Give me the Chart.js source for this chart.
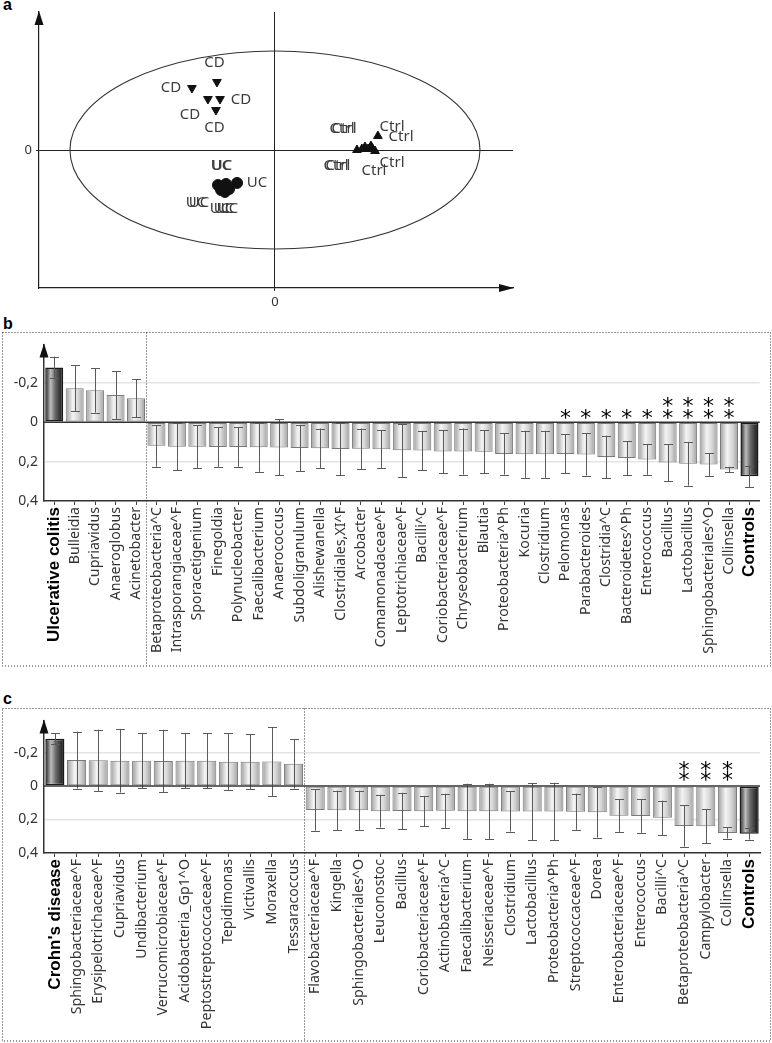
<!DOCTYPE html>
<html lang="en">
<head>
<meta charset="UTF-8">
<title>PCA and discriminant genera – IBD vs controls</title>
<style>
    body { margin: 0; background: #fff; }
    .wrap { position: relative; width: 772px; height: 1043px; overflow: hidden; }
    canvas { position: absolute; left: 0; }
    .letter { position: absolute; left: 3px; font: bold 16px "Liberation Sans", Arial, sans-serif; line-height: 16px; color: #000; }
</style>
</head>
<body>
<div class="wrap">
    <div class="letter" style="top:-3px">a</div>
    <canvas id="pca" width="772" height="312" style="top:0"></canvas>
    <div class="letter" style="top:316px">b</div>
    <canvas id="ucChart" width="772" height="338" style="top:330px"></canvas>
    <div class="letter" style="top:691px">c</div>
    <canvas id="cdChart" width="772" height="337" style="top:706px"></canvas>
</div>

<script src="https://cdn.jsdelivr.net/npm/chart.js@4.4.1/dist/chart.umd.min.js"></script>
<script>
    // ---- panel a: PCA scores (axis units scaled so the ellipse has radius 1)
    const cdX = [-0.283, -0.405, -0.327, -0.268, -0.288];
    const cdY = [0.687, 0.626, 0.515, 0.515, 0.404];
    const ucX = [-0.278, -0.263, -0.244, -0.224, -0.239, -0.259, -0.185];
    const ucY = [-0.354, -0.404, -0.424, -0.394, -0.343, -0.374, -0.333];
    const ctrlX = [0.400, 0.424, 0.439, 0.454, 0.473, 0.488, 0.468, 0.502];
    const ctrlY = [0.000, 0.010, 0.030, 0.010, 0.020, -0.010, 0.040, 0.141];

    const cdLabelX = [-0.295, -0.507, -0.166, -0.415, -0.295];
    const cdLabelY = [0.879, 0.626, 0.505, 0.354, 0.222];
    const ucLabelX = [-0.263, -0.258, -0.088, -0.385, -0.371, -0.268, -0.249, -0.229];
    const ucLabelY = [-0.162, -0.162, -0.333, -0.535, -0.535, -0.596, -0.596, -0.596];
    const ctrlLabelX = [0.327, 0.337, 0.571, 0.615, 0.298, 0.307, 0.483, 0.571];
    const ctrlLabelY = [0.212, 0.212, 0.232, 0.131, -0.162, -0.162, -0.212, -0.131];

    const ellipseRx = 1;
    const ellipseRy = 1;

    // ---- panel b: ulcerative colitis vs controls
    const ucLabels = ['Ulcerative colitis', 'Bulleidia', 'Cupriavidus', 'Anaeroglobus', 'Acinetobacter',
        'Betaproteobacteria^C', 'Intrasporangiaceae^F', 'Sporacetigenium', 'Finegoldia', 'Polynucleobacter',
        'Faecalibacterium', 'Anaerococcus', 'Subdoligranulum', 'Alishewanella', 'Clostridiales,XI^F',
        'Arcobacter', 'Comamonadaceae^F', 'Leptotrichiaceae^F', 'Bacilli^C', 'Coriobacteriaceae^F',
        'Chryseobacterium', 'Blautia', 'Proteobacteria^Ph', 'Kocuria', 'Clostridium', 'Pelomonas',
        'Parabacteroides', 'Clostridia^C', 'Bacteroidetes^Ph', 'Enterococcus', 'Bacillus', 'Lactobacillus',
        'Sphingobacteriales^O', 'Collinsella', 'Controls'];
    const ucMean = [-0.278, -0.172, -0.162, -0.138, -0.122, 0.120, 0.125, 0.124, 0.126, 0.126,
        0.127, 0.128, 0.131, 0.132, 0.136, 0.135, 0.137, 0.142, 0.144, 0.149,
        0.149, 0.150, 0.161, 0.163, 0.163, 0.161, 0.164, 0.176, 0.182, 0.189,
        0.205, 0.211, 0.215, 0.240, 0.274];
    const ucSd = [0.055, 0.117, 0.113, 0.122, 0.097, 0.106, 0.120, 0.108, 0.100, 0.100,
        0.125, 0.142, 0.118, 0.100, 0.134, 0.103, 0.095, 0.135, 0.100, 0.110,
        0.117, 0.110, 0.105, 0.119, 0.119, 0.099, 0.107, 0.108, 0.086, 0.078,
        0.094, 0.111, 0.057, 0.014, 0.054];
    const ucStars = [0, 0, 0, 0, 0, 0, 0, 0, 0, 0, 0, 0, 0, 0, 0, 0, 0, 0, 0, 0,
        0, 0, 0, 0, 0, 1, 1, 1, 1, 1, 2, 2, 2, 2, 0];
    const ucGroupSize = 5;

    // ---- panel c: Crohn's disease vs controls
    const cdLabels = ["Crohn's disease", 'Sphingobacteriaceae^F', 'Erysipelotrichaceae^F', 'Cupriavidus',
        'Undibacterium', 'Verrucomicrobiaceae^F', 'Acidobacteria_Gp1^O', 'Peptostreptococcaceae^F',
        'Tepidimonas', 'Victivallis', 'Moraxella', 'Tessaracoccus', 'Flavobacteriaceae^F', 'Kingella',
        'Sphingobacteriales^O', 'Leuconostoc', 'Bacillus', 'Coriobacteriaceae^F', 'Actinobacteria^C',
        'Faecalibacterium', 'Neisseriaceae^F', 'Clostridium', 'Lactobacillus', 'Proteobacteria^Ph',
        'Streptococcaceae^F', 'Dorea', 'Enterobacteriaceae^F', 'Enterococcus', 'Bacilli^C',
        'Betaproteobacteria^C', 'Campylobacter', 'Collinsella', 'Controls'];
    const cdMean = [-0.283, -0.155, -0.154, -0.151, -0.151, -0.150, -0.151, -0.151, -0.145, -0.145,
        -0.146, -0.133, 0.143, 0.145, 0.145, 0.150, 0.149, 0.150, 0.148, 0.151,
        0.151, 0.152, 0.152, 0.152, 0.153, 0.157, 0.177, 0.179, 0.190, 0.238,
        0.240, 0.280, 0.285];
    const cdSd = [0.033, 0.170, 0.183, 0.190, 0.165, 0.186, 0.165, 0.165, 0.170, 0.165,
        0.205, 0.148, 0.124, 0.117, 0.117, 0.098, 0.109, 0.091, 0.102, 0.165,
        0.165, 0.120, 0.171, 0.171, 0.108, 0.151, 0.097, 0.100, 0.103, 0.124,
        0.101, 0.034, 0.035];
    const cdStars = [0, 0, 0, 0, 0, 0, 0, 0, 0, 0, 0, 0, 0, 0, 0, 0, 0, 0, 0, 0,
        0, 0, 0, 0, 0, 0, 0, 0, 0, 2, 2, 2, 0];
    const cdGroupSize = 12;

    const yTickValues = [-0.2, 0, 0.2, 0.4];
    const yTickLabels = ['-0,2', '0', '0,2', '0,4'];

    const textFont = '"Noto Sans", "Open Sans", sans-serif';
    const boldFont = '"Liberation Sans", Arial, sans-serif';
    const labelSize = 14.2;
    const boldSize = 17;

    function drawArrowUp(ctx, x, y) {
        ctx.beginPath();
        ctx.moveTo(x, y - 1);
        ctx.lineTo(x - 4.5, y + 13);
        ctx.lineTo(x + 4.5, y + 13);
        ctx.closePath();
        ctx.fill();
    }

    function drawArrowRight(ctx, x, y) {
        ctx.beginPath();
        ctx.moveTo(x + 1, y);
        ctx.lineTo(x - 14, y - 4);
        ctx.lineTo(x - 14, y + 4);
        ctx.closePath();
        ctx.fill();
    }

    // ------------------------------------------------------------ panel a
    function pcaChart() {
        const toPoints = (xs, ys) => xs.map((x, i) => ({x: x, y: ys[i]}));

        const pcaDecor = {
            id: 'pcaDecor',
            beforeDatasetsDraw(chart) {
                const ctx = chart.ctx;
                const sx = chart.scales.x, sy = chart.scales.y;
                const cx = sx.getPixelForValue(0), cy = sy.getPixelForValue(0);
                ctx.save();
                ctx.strokeStyle = '#333';
                ctx.lineWidth = 1.1;
                ctx.beginPath();
                ctx.ellipse(cx, cy, sx.getPixelForValue(ellipseRx) - cx, cy - sy.getPixelForValue(ellipseRy), 0, 0, Math.PI * 2);
                ctx.stroke();
                ctx.restore();
            },
            afterDatasetsDraw(chart) {
                const ctx = chart.ctx;
                const sx = chart.scales.x, sy = chart.scales.y;
                const groups = [
                    [cdLabelX, cdLabelY, 'CD'],
                    [ucLabelX, ucLabelY, 'UC'],
                    [ctrlLabelX, ctrlLabelY, 'Ctrl']
                ];
                ctx.save();
                ctx.fillStyle = '#3c3c3c';
                ctx.font = '15px ' + textFont;
                ctx.textAlign = 'center';
                ctx.textBaseline = 'middle';
                for (const g of groups) {
                    for (let i = 0; i < g[0].length; i++) {
                        ctx.fillText(g[2], sx.getPixelForValue(g[0][i]), sy.getPixelForValue(g[1][i]));
                    }
                }
                ctx.restore();
            },
            afterDraw(chart) {
                const ctx = chart.ctx;
                const a = chart.chartArea;
                ctx.save();
                ctx.fillStyle = '#111';
                drawArrowUp(ctx, a.left, a.top);
                drawArrowRight(ctx, a.right, a.bottom);
                ctx.restore();
            }
        };

        new Chart(document.getElementById('pca'), {
            type: 'scatter',
            data: {
                datasets: [
                    {data: toPoints(cdX, cdY), pointStyle: 'triangle', rotation: 180, radius: 5,
                        backgroundColor: '#111', borderColor: '#111'},
                    {data: toPoints(ucX, ucY), pointStyle: 'circle', radius: 5.5,
                        backgroundColor: '#111', borderColor: '#111'},
                    {data: toPoints(ctrlX, ctrlY), pointStyle: 'triangle', radius: 5,
                        backgroundColor: '#111', borderColor: '#111'}
                ]
            },
            options: {
                responsive: false,
                animation: false,
                layout: {padding: {left: 0, top: 12, right: 259, bottom: 0}},
                plugins: {legend: {display: false}, tooltip: {enabled: false}},
                scales: {
                    x: {
                        min: -1.151, max: 1.161,
                        afterBuildTicks: s => { s.ticks = [{value: 0}]; },
                        afterFit: s => { s.height = 24; },
                        ticks: {callback: () => '0', color: '#333', font: {size: 13, family: textFont}, padding: 3},
                        grid: {color: '#222', lineWidth: 1, tickLength: 3},
                        border: {color: '#222', width: 1.2}
                    },
                    y: {
                        min: -1.394, max: 1.394,
                        afterBuildTicks: s => { s.ticks = [{value: 0}]; },
                        afterFit: s => { s.width = 39; },
                        ticks: {callback: () => '0', color: '#333', font: {size: 13, family: textFont}, padding: 4},
                        grid: {color: '#222', lineWidth: 1, tickLength: 3},
                        border: {color: '#222', width: 1.2}
                    }
                }
            },
            plugins: [pcaDecor]
        });
    }

    // ------------------------------------------------------------ panels b and c
    function barChart(id, labels, means, sds, stars, groupSize, look) {
        const n = labels.length;
        const barPct = 0.88;

        function fill(c) {
            const chart = c.chart;
            const xs = chart.scales.x;
            if (!xs || c.dataIndex === undefined || !chart.chartArea) {
                return '#cccccc';
            }
            const cx = xs.getPixelForValue(c.dataIndex);
            const w = xs.width / n * barPct;
            const g = chart.ctx.createLinearGradient(cx - w / 2, 0, cx + w / 2, 0);
            if (c.dataIndex === 0 || c.dataIndex === n - 1) {
                g.addColorStop(0, '#1a1a1a');
                g.addColorStop(0.3, '#bdbdbd');
                g.addColorStop(0.55, '#6a6a6a');
                g.addColorStop(1, '#101010');
            } else {
                g.addColorStop(0, '#9d9d9d');
                g.addColorStop(0.4, '#f4f4f4');
                g.addColorStop(0.7, '#d6d6d6');
                g.addColorStop(1, '#a0a0a0');
            }
            return g;
        }

        const decor = {
            id: 'decor_' + id,
            afterDatasetsDraw(chart) {
                const ctx = chart.ctx;
                const sx = chart.scales.x, sy = chart.scales.y;
                const a = chart.chartArea;
                const y0 = sy.getPixelForValue(0);
                ctx.save();
                // error bars (mean ± sd)
                ctx.strokeStyle = '#5a5a5a';
                ctx.lineWidth = 1;
                for (let i = 0; i < n; i++) {
                    const x = Math.round(sx.getPixelForValue(i)) + 0.5;
                    const y1 = sy.getPixelForValue(means[i] - sds[i]);
                    const y2 = sy.getPixelForValue(means[i] + sds[i]);
                    ctx.beginPath();
                    ctx.moveTo(x, y1);
                    ctx.lineTo(x, y2);
                    ctx.moveTo(x - 4.5, Math.round(y1) + 0.5);
                    ctx.lineTo(x + 4.5, Math.round(y1) + 0.5);
                    ctx.moveTo(x - 4.5, Math.round(y2) + 0.5);
                    ctx.lineTo(x + 4.5, Math.round(y2) + 0.5);
                    ctx.stroke();
                }
                // zero line
                ctx.strokeStyle = '#333';
                ctx.lineWidth = 1.5;
                ctx.beginPath();
                ctx.moveTo(a.left, y0);
                ctx.lineTo(a.right, y0);
                ctx.stroke();
                // significance stars, centred on their row
                ctx.fillStyle = '#000';
                ctx.font = '22px "DejaVu Sans", sans-serif';
                ctx.textAlign = 'center';
                ctx.textBaseline = 'alphabetic';
                const m = ctx.measureText('*');
                const mid = (m.actualBoundingBoxAscent - m.actualBoundingBoxDescent) / 2;
                for (let i = 0; i < n; i++) {
                    for (let k = 0; k < stars[i]; k++) {
                        const yc = y0 - look.starOffset - k * look.starGap;
                        ctx.fillText('*', sx.getPixelForValue(i), yc + mid);
                    }
                }
                ctx.restore();
            },
            afterDraw(chart) {
                const ctx = chart.ctx;
                const sx = chart.scales.x;
                const a = chart.chartArea;
                const W = chart.width, H = chart.height;
                ctx.save();
                ctx.fillStyle = '#111';
                drawArrowUp(ctx, a.left, a.top);
                // dotted frame and group separator
                ctx.strokeStyle = '#333';
                ctx.lineWidth = 1;
                ctx.setLineDash([1, 2]);
                ctx.strokeRect(2.5, 2.5, W - 4, H - 4.5);
                const sepX = Math.round((sx.getPixelForValue(groupSize - 1) + sx.getPixelForValue(groupSize)) / 2) + 0.5;
                ctx.beginPath();
                ctx.moveTo(sepX, 2.5);
                ctx.lineTo(sepX, H - 2);
                ctx.stroke();
                ctx.restore();
            }
        };

        new Chart(document.getElementById(id), {
            type: 'bar',
            data: {
                labels: labels,
                datasets: [{
                    data: means,
                    backgroundColor: fill,
                    borderColor: c => (c.dataIndex === 0 || c.dataIndex === n - 1) ? '#1a1a1a' : '#7a7a7a',
                    borderWidth: c => (c.dataIndex === 0 || c.dataIndex === n - 1) ? 1.5 : 1,
                    borderSkipped: false,
                    barPercentage: barPct,
                    categoryPercentage: 1
                }]
            },
            options: {
                responsive: false,
                animation: false,
                layout: {padding: {left: 0, top: look.top, right: look.right, bottom: 0}},
                plugins: {legend: {display: false}, tooltip: {enabled: false}},
                scales: {
                    x: {
                        afterFit: s => { s.height = look.axisHeight; },
                        ticks: {
                            autoSkip: false,
                            minRotation: 90,
                            maxRotation: 90,
                            padding: 2,
                            color: c => (c.index === 0 || c.index === n - 1) ? '#000' : '#333',
                            font: c => (c.index === 0 || c.index === n - 1)
                                ? {family: boldFont, size: boldSize, weight: 'bold'}
                                : {family: textFont, size: labelSize, weight: 'normal'}
                        },
                        grid: {drawOnChartArea: false, offset: false, tickLength: 4, color: '#444'},
                        border: {color: '#333', width: 1.5}
                    },
                    y: {
                        reverse: true,
                        min: look.yMin,
                        max: 0.4,
                        afterBuildTicks: s => { s.ticks = yTickValues.map(v => ({value: v})); },
                        afterFit: s => { s.width = 44; },
                        ticks: {
                            callback: (v, i) => yTickLabels[i],
                            color: '#333',
                            padding: 6,
                            font: {family: textFont, size: 14}
                        },
                        grid: {
                            drawTicks: false,
                            color: c => (c.tick && Math.abs(c.tick.value) === 0.2) ? '#e4e4e4' : 'rgba(0,0,0,0)',
                            lineWidth: 1.5
                        },
                        border: {color: '#333', width: 1.5}
                    }
                }
            },
            plugins: [decor]
        });
    }

    pcaChart();
    barChart('ucChart', ucLabels, ucMean, ucSd, ucStars, ucGroupSize,
        {top: 13, right: 10, axisHeight: 167, yMin: -0.395, starOffset: 8, starGap: 12});
    barChart('cdChart', cdLabels, cdMean, cdSd, cdStars, cdGroupSize,
        {top: 14, right: 12, axisHeight: 190, yMin: -0.392, starOffset: 10, starGap: 10});
</script>
</body>
</html>
